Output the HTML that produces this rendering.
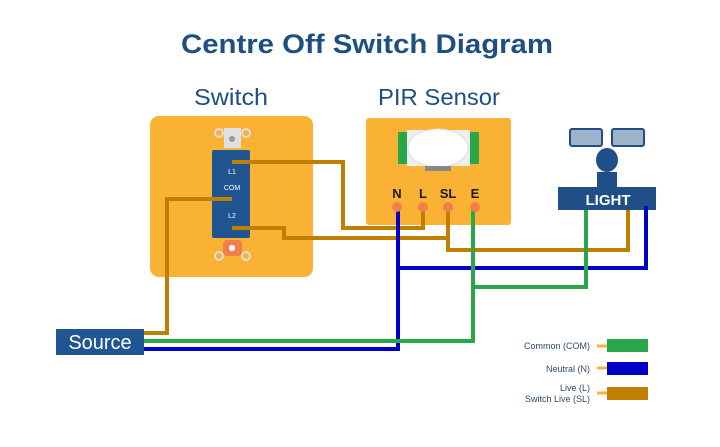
<!DOCTYPE html>
<html><head><meta charset="utf-8"><style>
html,body{margin:0;padding:0;background:#fff;}
svg{display:block;font-family:"Liberation Sans",sans-serif;}
</style></head><body>
<svg width="720" height="447" viewBox="0 0 720 447" xmlns="http://www.w3.org/2000/svg">
<text x="367" y="53" text-anchor="middle" font-size="27" font-weight="bold" fill="#1d4f82" textLength="372" lengthAdjust="spacingAndGlyphs">Centre Off Switch Diagram</text>
<text x="231" y="105" text-anchor="middle" font-size="23" fill="#1d4f82" textLength="74" lengthAdjust="spacingAndGlyphs">Switch</text>
<text x="439" y="105" text-anchor="middle" font-size="23" fill="#1d4f82" textLength="122" lengthAdjust="spacingAndGlyphs">PIR Sensor</text>

<rect x="150" y="116" width="163" height="161" rx="9" fill="#f9b233"/>
<circle cx="219" cy="133" r="4" fill="none" stroke="#ddd" stroke-width="2"/>
<circle cx="246" cy="133" r="4" fill="none" stroke="#ddd" stroke-width="2"/>
<rect x="224" y="128" width="17" height="20" fill="#e0e0e0"/>
<circle cx="232" cy="139" r="3" fill="#999"/>
<rect x="212" y="150" width="38" height="88" rx="2" fill="#1f5591"/>
<text x="232" y="174" text-anchor="middle" font-size="7" fill="#fff">L1</text>
<text x="232" y="190" text-anchor="middle" font-size="7" fill="#fff">COM</text>
<text x="232" y="218" text-anchor="middle" font-size="7" fill="#fff">L2</text>
<circle cx="219" cy="256" r="4" fill="none" stroke="#ddd" stroke-width="2"/>
<circle cx="246" cy="256" r="4" fill="none" stroke="#ddd" stroke-width="2"/>
<rect x="223" y="240" width="19" height="16" rx="4" fill="#f07f4a"/>
<circle cx="232" cy="248" r="3" fill="#fff"/>

<rect x="366" y="118" width="145" height="107" rx="3" fill="#f9b233"/>
<rect x="398" y="132" width="10" height="32" fill="#2aa64a"/>
<rect x="469" y="132" width="10" height="32" fill="#2aa64a"/>
<rect x="407" y="130" width="63" height="36" fill="#eee"/>
<ellipse cx="438" cy="148" rx="30" ry="19" fill="#fff" stroke="#ddd"/>
<rect x="425" y="166" width="26" height="5" fill="#888"/>
<g font-size="13" font-weight="bold" fill="#1a1a1a" text-anchor="middle">
<text x="397" y="198">N</text><text x="423" y="198">L</text><text x="448" y="198">SL</text><text x="475" y="198">E</text>
</g>

<rect x="570" y="129" width="32" height="17" rx="2" fill="#9fb3cc" stroke="#1f4f86" stroke-width="2"/>
<rect x="612" y="129" width="32" height="17" rx="2" fill="#9fb3cc" stroke="#1f4f86" stroke-width="2"/>
<ellipse cx="607" cy="160" rx="11" ry="12" fill="#1f4f86"/>
<rect x="597" y="172" width="20" height="16" fill="#1f4f86"/>
<rect x="558" y="187" width="98" height="23" fill="#1f4f86"/>
<text x="608" y="205" text-anchor="middle" font-size="15" font-weight="bold" fill="#fff">LIGHT</text>

<g fill="none" stroke-width="4" stroke-linejoin="miter">
<polyline stroke="#c07f00" points="232,162 343,162 343,228 423,228 423,208"/>
<polyline stroke="#c07f00" points="232,228 284,228 284,238 448,238"/>
<polyline stroke="#c07f00" points="448,208 448,250 628,250 628,210"/>
<polyline stroke="#c07f00" points="232,199 167,199 167,333 144,333"/>
<polyline stroke="#0000c8" points="144,349 398,349 398,208"/>
<polyline stroke="#0000c8" points="398,268 646,268 646,206"/>
<polyline stroke="#2aa64a" points="144,341 473,341 473,208"/>
<polyline stroke="#2aa64a" points="473,287 586,287 586,210"/>
</g>
<g fill="#f07f4a"><circle cx="397" cy="207" r="5"/><circle cx="423" cy="207" r="5"/><circle cx="448" cy="207" r="5"/><circle cx="475" cy="207" r="5"/></g>

<rect x="56" y="329" width="88" height="26" fill="#1f5591"/>
<text x="100" y="349" text-anchor="middle" font-size="20" fill="#fff">Source</text>

<g font-size="9" fill="#2d4a6e" text-anchor="end">
<text x="590" y="349">Common (COM)</text>
<text x="590" y="372">Neutral (N)</text>
<text x="590" y="391">Live (L)</text>
<text x="590" y="402">Switch Live (SL)</text>
</g>
<g stroke="#f9b233" stroke-width="3"><line x1="597" y1="346" x2="607" y2="346"/><line x1="597" y1="368" x2="607" y2="368"/><line x1="597" y1="393" x2="607" y2="393"/></g>
<rect x="607" y="339" width="41" height="13" fill="#2aa64a"/>
<rect x="607" y="362" width="41" height="13" fill="#0000c8"/>
<rect x="607" y="387" width="41" height="13" fill="#c07f00"/>
</svg>
</body></html>
